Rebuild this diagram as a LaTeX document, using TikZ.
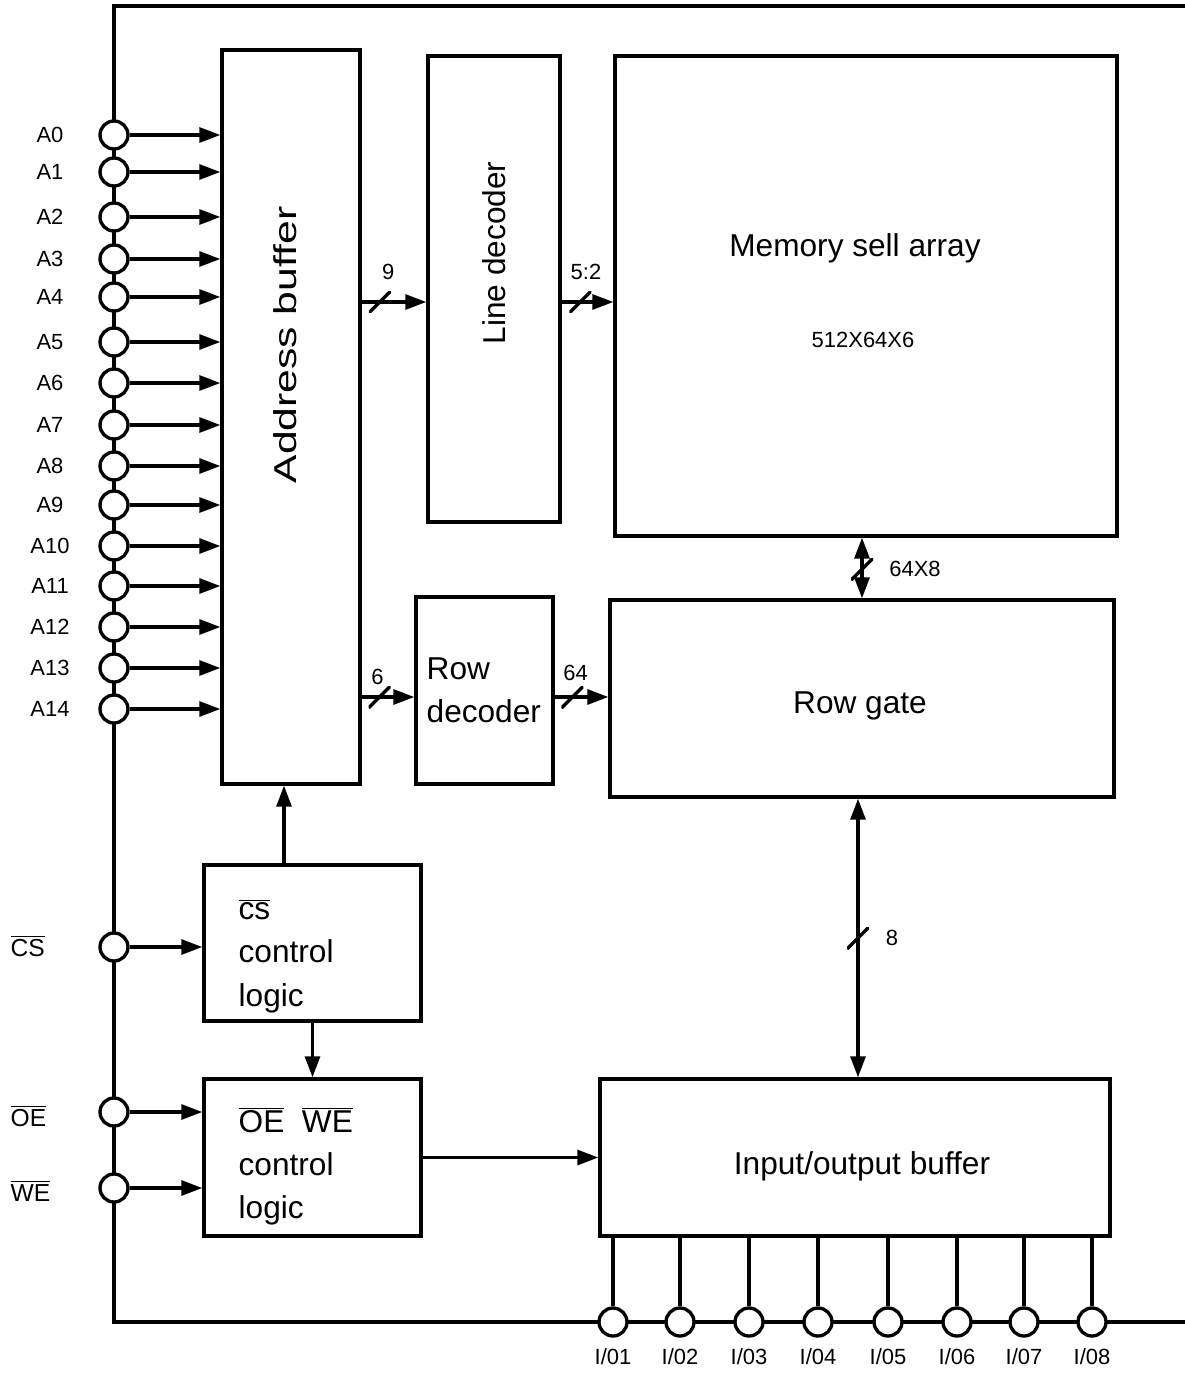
\documentclass[tikz,border=0pt]{standalone}
\usepackage{fontspec}
\usepackage{graphicx}
\setmainfont{Liberation Sans}
\usetikzlibrary{arrows.meta}
\newcommand{\barsig}[1]{\ensuremath{\overline{\mbox{#1}}}}

\begin{document}
\begin{tikzpicture}[
        x=0.02cm, y=-0.02cm,
        line width=1.9pt,
        block/.style={rectangle, draw=black, line width=1.9pt, fill=white, inner sep=0pt},
        port/.style={circle, draw=black, line width=1.9pt, fill=white, minimum size=0.56cm, inner sep=0pt},
        arrow/.style={-{Triangle[length=12pt, width=8.5pt]}},
        dblarrow/.style={{Triangle[length=12pt, width=8.5pt]}-{Triangle[length=12pt, width=8.5pt]}},
        busmark/.style={inner sep=0pt, minimum size=0.44cm,
            path picture={\draw[-, line width=1.9pt] (path picture bounding box.south west) -- (path picture bounding box.north east);}},
        bigtxt/.style={font=\fontsize{18}{24.5}\selectfont},
        smalltxt/.style={font=\fontsize{12.5}{15}\selectfont},
        sigtxt/.style={font=\fontsize{14}{16}\selectfont, anchor=west, inner sep=0pt}
    ]
        \useasboundingbox (0,0) rectangle (1185,1378);

        % Frame
        \coordinate (ftr) at (1185,6);
        \coordinate (ftl) at (114,6);
        \coordinate (fbl) at (114,1322);
        \coordinate (fbr) at (1185,1322);
        \draw (ftr) -- (ftl) -- (fbl) -- (fbr);

        % Blocks
        \node[block, minimum width=2.76cm, minimum height=14.68cm] (addr) at (291,417) {};
        \node[bigtxt, rotate=90] (addrtxt) at (285,345) {\scalebox{1.35}[1]{Address buffer}};
        \node[block, minimum width=2.64cm, minimum height=9.32cm] (linedec) at (494,289) {};
        \node[bigtxt, rotate=90] (linetxt) at (494,253) {Line decoder};
        \node[block, minimum width=10.04cm, minimum height=9.6cm] (mem) at (866,296) {};
        \node[bigtxt] (memtxt) at (855,248) {Memory sell array};
        \node[smalltxt] (memsize) at (863,340) {512X64X6};
        \node[block, minimum width=2.74cm, minimum height=3.74cm] (rowdec) at (484.5,690.5) {};
        \node[bigtxt, align=left, anchor=west, inner sep=0pt] (rowdectxt) at (425,690) {Row\\decoder};
        \node[block, minimum width=10.08cm, minimum height=3.94cm] (rowgate) at (862,698.5) {};
        \node[bigtxt] (rowgatetxt) at (860,706) {Row gate};
        \node[block, minimum width=4.34cm, minimum height=3.12cm] (cslogic) at (312.5,943) {};
        \node[bigtxt, align=left, anchor=west, inner sep=0pt] (cstxt) at (237,956) {\barsig{cs}\\control\\logic};
        \node[block, minimum width=4.34cm, minimum height=3.14cm] (oewe) at (312.5,1157.5) {};
        \node[bigtxt, align=left, anchor=west, inner sep=0pt] (oewetxt) at (237,1166) {\barsig{OE}\ \ \barsig{WE}\\control\\logic};
        \node[block, minimum width=10.2cm, minimum height=3.14cm] (iobuf) at (855,1157.5) {};
        \node[bigtxt] (iobuftxt) at (862,1166) {Input/output buffer};

        % Address pins
        \foreach \n/\y in {0/135,1/172,2/217,3/259,4/297,5/342,6/383,7/425,8/466,9/505,10/546,11/586,12/627,13/668,14/709} {
            \node[port] (a\n) at (114,\y) {};
            \node[smalltxt] (la\n) at (50,\y) {A\n};
            \draw[arrow] (a\n) -- (addr.west |- a\n);
        }

        % Control pins
        \node[port] (pcs) at (114,947) {};
        \node[sigtxt] (lcs) at (9,946) {\barsig{CS}};
        \node[port] (poe) at (114,1112) {};
        \node[sigtxt] (loe) at (9,1116) {\barsig{OE}};
        \node[port] (pwe) at (114,1188) {};
        \node[sigtxt] (lwe) at (9,1191) {\barsig{WE}};
        \draw[arrow] (pcs) -- (cslogic.west |- pcs);
        \draw[arrow] (poe) -- (oewe.west |- poe);
        \draw[arrow] (pwe) -- (oewe.west |- pwe);

        % Data pins
        \foreach \n/\x in {1/613,2/680,3/749,4/818,5/888,6/957,7/1024,8/1092} {
            \node[port] (io\n) at (\x,1322) {};
            \node[smalltxt] (lio\n) at (\x,1357) {I/0\n};
            \draw (iobuf.south -| io\n) -- (io\n);
        }

        % Buses
        \coordinate (busa) at (0,302);
        \coordinate (busb) at (0,697);
        \coordinate (busc) at (862,0);
        \coordinate (busd) at (858,0);
        \draw[arrow] (addr.east |- busa) -- node[busmark, pos=0.28] (m9) {} node[smalltxt, pos=0.41, yshift=0.6cm] (l9) {9} (linedec.west |- busa);
        \draw[arrow] (linedec.east |- busa) -- node[busmark, pos=0.36] (m52) {} node[smalltxt, pos=0.47, yshift=0.6cm] (l52) {5:2} (mem.west |- busa);
        \draw[arrow] (addr.east |- busb) -- node[busmark, pos=0.34] (m6) {} node[smalltxt, pos=0.30, yshift=0.4cm] (l6) {6} (rowdec.west |- busb);
        \draw[arrow] (rowdec.east |- busb) -- node[busmark, pos=0.33] (m64) {} node[smalltxt, pos=0.39, yshift=0.48cm] (l64) {64} (rowgate.west |- busb);
        \draw[dblarrow] (mem.south -| busc) -- node[busmark, pos=0.52] (m648) {} node[smalltxt, pos=0.52, xshift=1.06cm] (l648) {64X8} (rowgate.north -| busc);
        \draw[dblarrow] (rowgate.south -| busd) -- node[busmark, pos=0.5] (m8) {} node[smalltxt, pos=0.5, xshift=0.68cm] (l8) {8} (iobuf.north -| busd);

        % Control paths
        \draw[arrow] ([xshift=-0.57cm]cslogic.north) -- ([xshift=-0.57cm]cslogic.north |- addr.south);
        \draw[arrow] (cslogic) -- (oewe);
        \draw[arrow] (oewe) -- (iobuf.west |- oewe);
    \end{tikzpicture}
\end{document}
